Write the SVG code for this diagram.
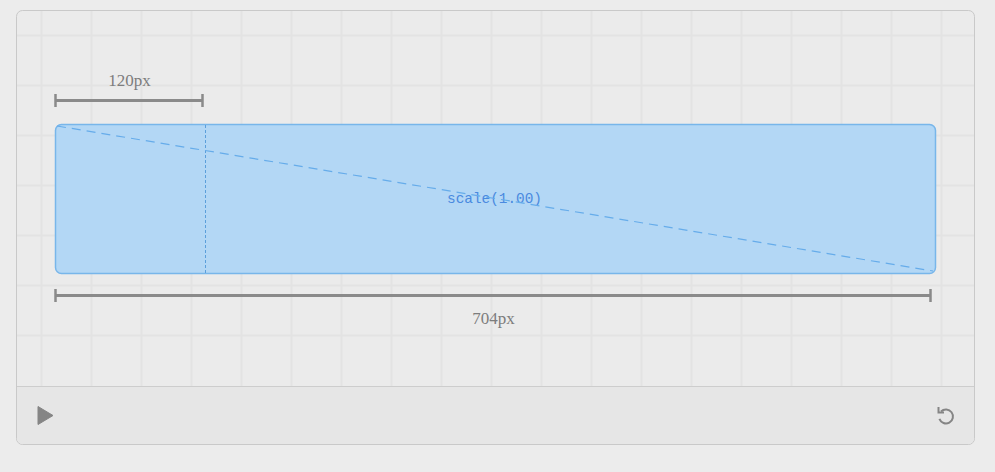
<svg xmlns="http://www.w3.org/2000/svg" width="995" height="472" viewBox="0 0 995 472">
<defs>
<style>
.grid line{stroke:#e3e3e3;stroke-width:2}
.meas{stroke:#8a8a8a;stroke-width:3;fill:none}
.tick{stroke:#8a8a8a;stroke-width:2.5}
.mlabel{font-family:"Liberation Serif",serif;font-size:17px;fill:#7d7d7d;text-anchor:middle}
</style>
<clipPath id="gclip"><rect x="17" y="11" width="957" height="375"/></clipPath>
</defs>
<rect width="995" height="472" fill="#ececec"/>
<g id="panel">
<rect x="16.5" y="10.5" width="958" height="434" rx="6" fill="#ebebeb" stroke="#c9c9c9"/>
</g>
<g id="grid" class="grid" clip-path="url(#gclip)">
<line x1="41.5" y1="11" x2="41.5" y2="386"/><line x1="91.5" y1="11" x2="91.5" y2="386"/><line x1="141.5" y1="11" x2="141.5" y2="386"/><line x1="191.5" y1="11" x2="191.5" y2="386"/><line x1="241.5" y1="11" x2="241.5" y2="386"/><line x1="291.5" y1="11" x2="291.5" y2="386"/><line x1="341.5" y1="11" x2="341.5" y2="386"/><line x1="391.5" y1="11" x2="391.5" y2="386"/><line x1="441.5" y1="11" x2="441.5" y2="386"/><line x1="491.5" y1="11" x2="491.5" y2="386"/><line x1="541.5" y1="11" x2="541.5" y2="386"/><line x1="591.5" y1="11" x2="591.5" y2="386"/><line x1="641.5" y1="11" x2="641.5" y2="386"/><line x1="691.5" y1="11" x2="691.5" y2="386"/><line x1="741.5" y1="11" x2="741.5" y2="386"/><line x1="791.5" y1="11" x2="791.5" y2="386"/><line x1="841.5" y1="11" x2="841.5" y2="386"/><line x1="891.5" y1="11" x2="891.5" y2="386"/><line x1="941.5" y1="11" x2="941.5" y2="386"/>
<line x1="17" y1="35.5" x2="974" y2="35.5"/><line x1="17" y1="85.5" x2="974" y2="85.5"/><line x1="17" y1="135.5" x2="974" y2="135.5"/><line x1="17" y1="185.5" x2="974" y2="185.5"/><line x1="17" y1="235.5" x2="974" y2="235.5"/><line x1="17" y1="285.5" x2="974" y2="285.5"/><line x1="17" y1="335.5" x2="974" y2="335.5"/>
</g>
<g id="footer">
<path d="M17 386 H974 V438.5 A6 6 0 0 1 968 444 H23 A6 6 0 0 1 17 438.5 Z" fill="#e6e6e6"/>
<line x1="17" y1="386.5" x2="974" y2="386.5" stroke="#cdcdcd"/>
</g>
<g id="box">
<rect x="55.5" y="124.5" width="880" height="149" rx="6" fill="#b3d7f5" stroke="#78b6ea" stroke-width="1.5"/>
<line x1="205.5" y1="125" x2="205.5" y2="273" stroke="#5c9fdb" stroke-width="1" stroke-dasharray="3,2"/>
<text x="494.5" y="203" font-family="'Liberation Mono',monospace" font-size="14.4" fill="#4a8ae0" text-anchor="middle">scale(1.00)</text>
</g>
<g id="connectors">
<line x1="57" y1="126" x2="933" y2="271" stroke="#66acea" stroke-width="1.2" stroke-dasharray="9,6"/>
</g>
<g id="measure-top">
<line class="meas" x1="55.5" y1="100.5" x2="202.5" y2="100.5"/>
<line class="tick" x1="55.5" y1="94" x2="55.5" y2="107"/>
<line class="tick" x1="202.5" y1="94" x2="202.5" y2="107"/>
<text class="mlabel" x="129.5" y="86">120px</text>
</g>
<g id="measure-bottom">
<line class="meas" x1="55.5" y1="295.5" x2="930.5" y2="295.5"/>
<line class="tick" x1="55.5" y1="289" x2="55.5" y2="302"/>
<line class="tick" x1="930.5" y1="289" x2="930.5" y2="302"/>
<text class="mlabel" x="493.5" y="324">704px</text>
</g>
<g id="play">
<path d="M38 406.5 L53 415.5 L38 424.5 Z" fill="#858585" stroke="#858585" stroke-width="1" stroke-linejoin="round"/>
</g>
<g id="reset">
<path d="M941 411.5 A7 7 0 1 1 939.4 418.9" fill="none" stroke="#858585" stroke-width="2"/>
<path d="M938.5 407 V412.5 H944" fill="none" stroke="#858585" stroke-width="2"/>
</g>
</svg>
